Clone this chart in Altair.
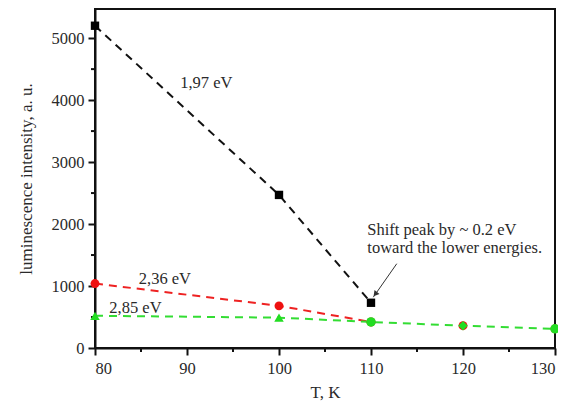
import altair as alt
import pandas as pd

T_black = [80, 100, 110]
I_black = [5200, 2470, 730]
T_red = [80, 100, 110, 120, 130]
I_red = [1040, 680, 420, 360, 310]
T_green = [80, 100, 110, 120, 130]
I_green = [520, 490, 420, 360, 310]
green_shapes = ["triangle-up", "triangle-up", "circle", "diamond", "circle"]

labels = ["1,97 eV", "2,36 eV", "2,85 eV"]
label_T = [92.1, 87.6, 84.4]
label_I = [4274, 1113, 645]

note_lines = ["Shift peak by ~ 0.2 eV", "toward the lower energies."]
note_T = [109.6, 109.6]
note_I = [1900, 1615]
arrow_start = (112.8, 1360)
arrow_end = (110.25, 820)

x_major = [80, 90, 100, 110, 120, 130]
x_minor = [85, 95, 105, 115, 125]
y_major = [0, 1000, 2000, 3000, 4000, 5000]
y_minor = [500, 1500, 2500, 3500, 4500]

FONT = "Liberation Serif"
TXT = "#2a2a2a"
xs = alt.Scale(domain=[80, 130], nice=False, zero=False)
ys = alt.Scale(domain=[0, 5470], nice=False)

black = pd.DataFrame({"T": T_black, "I": I_black})
red = pd.DataFrame({"T": T_red, "I": I_red})
green = pd.DataFrame({"T": T_green, "I": I_green, "s": green_shapes})

xaxis = alt.Axis(values=x_major, title="T, K", grid=False, format="d",
                 tickSize=7, tickWidth=2, domainWidth=2, domainColor="#111", tickColor="#111",
                 labelFont=FONT, labelFontSize=16.5, labelColor=TXT, titleFont=FONT,
                 titleFontSize=17, titleFontWeight="normal", titleColor=TXT, titlePadding=8,
                 labelPadding=5)
yaxis = alt.Axis(values=y_major, title="luminescence intensity, a. u.", format="d",
                 grid=False, tickSize=7, tickWidth=2, domainWidth=2, domainColor="#111", tickColor="#111",
                 labelFont=FONT, labelFontSize=16.5, labelColor=TXT, titleFont=FONT,
                 titleFontSize=17, titleFontWeight="normal", titleColor=TXT, titlePadding=16,
                 labelPadding=4)

base_x = alt.X("T:Q", scale=xs, axis=xaxis)
base_y = alt.Y("I:Q", scale=ys, axis=yaxis)

mx = alt.Chart(pd.DataFrame({"T": x_minor})).mark_rule(color="#111", strokeWidth=2, clip=False).encode(
    x="T:Q", y=alt.value(339), y2=alt.value(343))
my = alt.Chart(pd.DataFrame({"I": y_minor})).mark_rule(color="#111", strokeWidth=2, clip=False).encode(
    y="I:Q", x=alt.value(-4), x2=alt.value(0))

dash = [8, 6]
l_black = alt.Chart(black).mark_line(color="#111", strokeDash=dash, strokeWidth=2).encode(x=base_x, y=base_y)
p_black = alt.Chart(black).mark_point(shape="square", filled=True, color="#000", size=70, opacity=1).encode(x="T:Q", y="I:Q")
l_red = alt.Chart(red.iloc[:3]).mark_line(color="#ee2222", strokeDash=dash, strokeWidth=2).encode(x="T:Q", y="I:Q")
p_red = alt.Chart(red).mark_point(shape="circle", filled=True, color="#ee1111", size=80, opacity=1).encode(x="T:Q", y="I:Q")
l_green = alt.Chart(green).mark_line(color="#33dd33", strokeDash=dash, strokeWidth=2).encode(x="T:Q", y="I:Q")
p_green = alt.Chart(green).mark_point(filled=True, color="#22dd22", size=90, opacity=1).encode(
    x="T:Q", y="I:Q", shape=alt.Shape("s:N", scale=None))

lab = pd.DataFrame({"T": label_T, "I": label_I, "t": labels})
t_lab = alt.Chart(lab).mark_text(font=FONT, fontSize=16.5, color=TXT).encode(x="T:Q", y="I:Q", text="t:N")

note = pd.DataFrame({"T": note_T, "I": note_I, "t": note_lines})
t_note = alt.Chart(note).mark_text(font=FONT, fontSize=16.5, color=TXT, align="left").encode(x="T:Q", y="I:Q", text="t:N")

arr = pd.DataFrame({"T": [arrow_start[0]], "I": [arrow_start[1]], "T2": [arrow_end[0]], "I2": [arrow_end[1]]})
a_line = alt.Chart(arr).mark_rule(color="#333", strokeWidth=1).encode(x="T:Q", y="I:Q", x2="T2:Q", y2="I2:Q")
a_head = alt.Chart(pd.DataFrame({"T": [arrow_end[0]], "I": [arrow_end[1]]})).mark_point(
    shape="triangle-up", filled=True, color="#333", size=40, angle=218, opacity=1, yOffset=-3, xOffset=2).encode(x="T:Q", y="I:Q")

chart = alt.layer(l_black, mx, my, l_red, l_green, p_red, p_green, p_black, t_lab, t_note, a_line, a_head).properties(
    width=460, height=339,
    autosize=alt.AutoSizeParams(type="none"),
    padding={"left": 87, "top": 1, "right": 3, "bottom": 60},
).configure(background="white").configure_view(stroke="#111", strokeWidth=2)

chart.save("out.html", embed_options={"renderer": "svg", "actions": False})
